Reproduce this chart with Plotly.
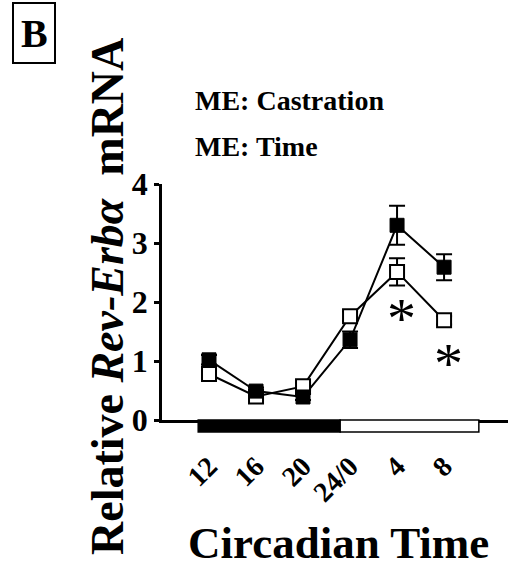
import plotly.graph_objects as go

# Circadian time points (hours) and relative Rev-Erbα mRNA (mean ± SEM)
ct_labels = ["12", "16", "20", "24/0", "4", "8"]
solid_mean = [1.02, 0.49, 0.39, 1.36, 3.30, 2.59]
solid_sem = [0.08, 0.06, 0.05, 0.14, 0.33, 0.22]
open_mean = [0.78, 0.40, 0.57, 1.76, 2.51, 1.69]
open_sem = [0.06, 0.05, 0.06, 0.08, 0.23, 0.07]

# time points with a significant group difference
sig_labels = ["4", "8"]
sig_y = [1.86, 1.10]

FONT = "Liberation Serif, Times New Roman, serif"
W, H = 508, 569
ML, MR, MT, MB = 162, 0, 184, 149
PW, PH = W - ML - MR, H - MT - MB
xpos = list(range(len(ct_labels)))


def px(x):
    return (x - ML) / PW


def py(y):
    return (H - MB - y) / PH


fig = go.Figure()

# connecting lines first, markers on top
fig.add_trace(go.Scatter(x=xpos, y=open_mean, mode="lines",
                         line=dict(color="black", width=2), showlegend=False))
fig.add_trace(go.Scatter(x=xpos, y=solid_mean, mode="lines",
                         line=dict(color="black", width=2), showlegend=False))
fig.add_trace(go.Scatter(
    x=xpos, y=open_mean, mode="markers",
    marker=dict(symbol="square", size=14, color="white",
                line=dict(color="black", width=2)),
    error_y=dict(type="data", array=open_sem, color="black", thickness=2, width=8),
    showlegend=False, cliponaxis=False))
fig.add_trace(go.Scatter(
    x=xpos, y=solid_mean, mode="markers",
    marker=dict(symbol="square", size=14, color="black",
                line=dict(color="black", width=1)),
    error_y=dict(type="data", array=solid_sem, color="black", thickness=2, width=8),
    showlegend=False, cliponaxis=False))

# dark / light bar under the time axis
fig.add_shape(type="rect", xref="x", yref="paper", x0=-0.23, x1=2.79,
              y0=py(432), y1=py(420), fillcolor="black",
              line=dict(color="black", width=1.5))
fig.add_shape(type="rect", xref="x", yref="paper", x0=2.79, x1=5.74,
              y0=py(432), y1=py(420), fillcolor="white",
              line=dict(color="black", width=1.5))

# significance marks
for lab, yv in zip(sig_labels, sig_y):
    fig.add_annotation(x=ct_labels.index(lab), y=yv, text="*", showarrow=False,
                       xshift=4, yshift=-8,
                       font=dict(family=FONT, size=58, color="black"))

# main-effect text
fig.add_annotation(xref="paper", yref="paper", x=px(193), y=py(100), text="<b>ME: Castration</b>",
                   xanchor="left", yanchor="middle", showarrow=False,
                   font=dict(family=FONT, size=28, color="black"))
fig.add_annotation(xref="paper", yref="paper", x=px(193), y=py(146), text="<b>ME: Time</b>",
                   xanchor="left", yanchor="middle", showarrow=False,
                   font=dict(family=FONT, size=28, color="black"))

# panel letter
fig.add_shape(type="rect", xref="paper", yref="paper", x0=px(13), x1=px(55),
              y0=py(63), y1=py(3), line=dict(color="black", width=2))
fig.add_annotation(xref="paper", yref="paper", x=px(34), y=py(34), text="<b>B</b>",
                   xanchor="center", yanchor="middle", showarrow=False,
                   font=dict(family=FONT, size=40, color="black"))

# axis titles
fig.add_annotation(xref="paper", yref="paper", x=px(107), y=py(297),
                   text="<b>Relative <i>Rev-Erbα</i>  mRNA</b>", textangle=-90,
                   xanchor="center", yanchor="middle", showarrow=False,
                   font=dict(family=FONT, size=46, color="black"))
fig.add_annotation(xref="paper", yref="paper", x=px(338), y=py(543),
                   text="<b>Circadian Time</b>",
                   xanchor="center", yanchor="middle", showarrow=False,
                   font=dict(family=FONT, size=45, color="black"))

fig.update_xaxes(range=[-1.0, 6.36], showline=True, linecolor="black", linewidth=2.5,
                 tickvals=xpos, ticktext=ct_labels,
                 ticks="", showgrid=False, zeroline=False, tickangle=-45,
                 ticklabelstandoff=16,
                 tickfont=dict(family=FONT, size=28, color="black", weight="bold"))
fig.update_yaxes(range=[0, 4], showline=True, linecolor="black", linewidth=2.5,
                 ticks="outside", ticklen=5, tickwidth=2.5, tickcolor="black",
                 tickvals=[0, 1, 2, 3, 4], showgrid=False, zeroline=False,
                 tickfont=dict(family=FONT, size=32, color="black", weight="bold"))

fig.update_layout(width=W, height=H, margin=dict(l=ML, r=MR, t=MT, b=MB),
                  plot_bgcolor="white", paper_bgcolor="white", showlegend=False)

fig.write_html("out.html")
